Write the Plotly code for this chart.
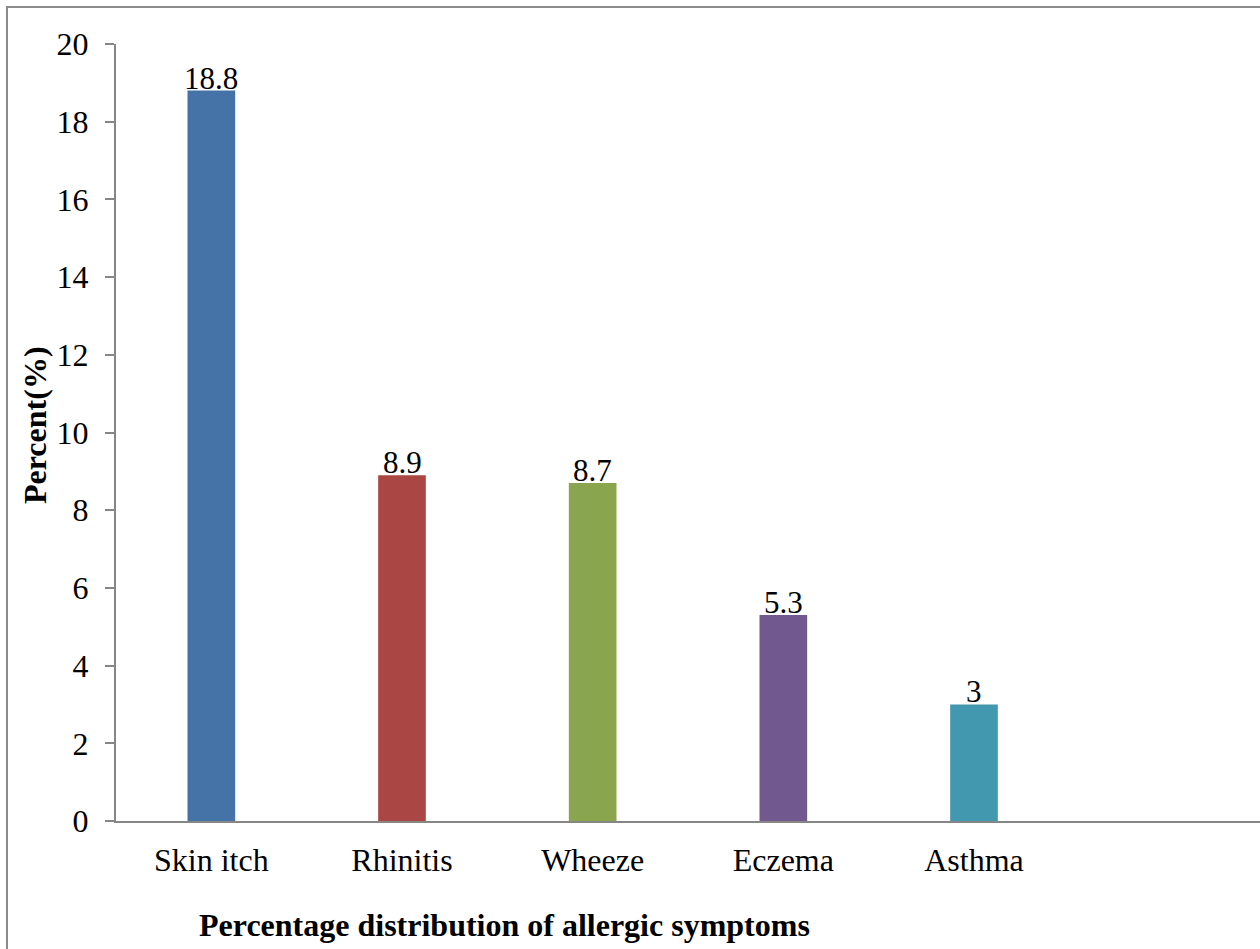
import plotly.graph_objects as go

# Allergic symptom prevalence
categories = ["Skin itch", "Rhinitis", "Wheeze", "Eczema", "Asthma"]
percent = [18.8, 8.9, 8.7, 5.3, 3]
bar_colors = ["#4572A7", "#AA4643", "#89A54E", "#71588F", "#4198AF"]
y_ticks = [0, 2, 4, 6, 8, 10, 12, 14, 16, 18, 20]

W, H = 1260, 949
L, R, T, B = 116, 0, 44, 128
FONT = "Liberation Serif, Times New Roman, serif"
AXIS_GREY = "#868686"

positions = list(range(len(categories)))

fig = go.Figure(
    go.Bar(
        x=positions,
        y=percent,
        marker=dict(color=bar_colors, line=dict(width=0)),
        width=0.25,
        cliponaxis=False,
        showlegend=False,
    )
)

# value labels sitting right on top of each bar
value_labels = [
    dict(
        x=p, y=v, xref="x", yref="y",
        text=f"{v:g}",
        xanchor="center", yanchor="bottom",
        yshift=-7,
        showarrow=False,
        font=dict(family=FONT, size=31, color="black"),
    )
    for p, v in zip(positions, percent)
]

fig.update_layout(
    width=W,
    height=H,
    margin=dict(l=L, r=R, t=T, b=B),
    paper_bgcolor="white",
    plot_bgcolor="white",
    font=dict(family=FONT, color="black"),
    xaxis=dict(
        range=[-0.5, 5.5],
        tickvals=positions,
        ticktext=categories,
        tickfont=dict(family=FONT, size=32, color="black"),
        showgrid=False,
        zeroline=False,
        showline=True,
        linecolor=AXIS_GREY,
        linewidth=2,
        ticks="",
        ticklabelstandoff=10,
        fixedrange=True,
    ),
    yaxis=dict(
        range=[0, 20],
        tickvals=y_ticks,
        tickfont=dict(family=FONT, size=32, color="black"),
        showgrid=False,
        zeroline=False,
        showline=True,
        linecolor=AXIS_GREY,
        linewidth=2,
        ticks="outside",
        ticklen=9,
        tickwidth=2,
        tickcolor=AXIS_GREY,
        ticklabelstandoff=10,
        fixedrange=True,
    ),
    annotations=value_labels + [
        dict(
            text="<b>Percentage distribution of allergic symptoms</b>",
            xref="paper", yref="paper",
            x=(504 - L) / (W - L - R), y=-(925 - (H - B)) / (H - T - B),
            xanchor="center", yanchor="middle",
            showarrow=False,
            font=dict(family=FONT, size=32, color="black"),
        ),
        dict(
            text="<b>Percent(%)</b>",
            xref="paper", yref="paper",
            x=-(L - 35) / (W - L - R), y=(H - B - 425) / (H - T - B),
            xanchor="center", yanchor="middle",
            textangle=-90,
            showarrow=False,
            font=dict(family=FONT, size=32, color="black"),
        ),
    ],
    shapes=[
        dict(
            type="rect",
            xref="paper", yref="paper",
            x0=(7 - L) / (W - L - R), x1=1.02,
            y0=-0.2, y1=(H - B - 7) / (H - T - B),
            line=dict(color="#8c8c8c", width=2),
            fillcolor="rgba(0,0,0,0)",
            layer="below",
        )
    ],
)

fig.write_html("out.html")
